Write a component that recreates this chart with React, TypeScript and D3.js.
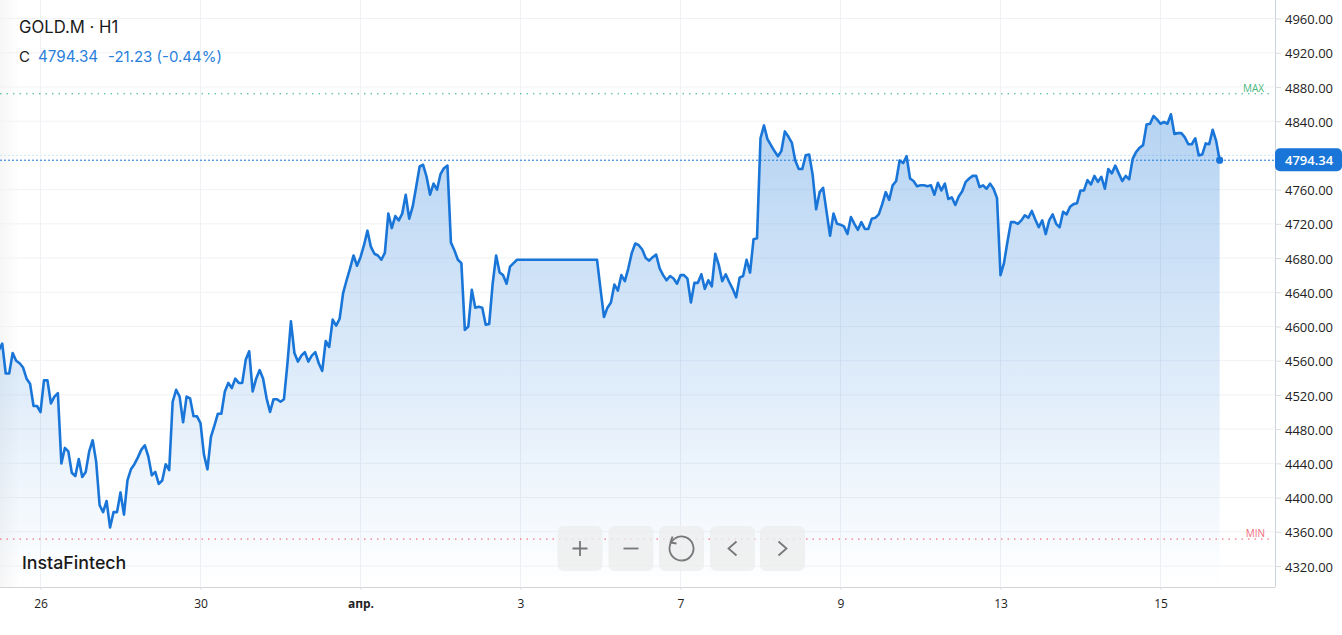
import React, { useEffect, useRef } from 'react';
import * as d3 from 'd3';

const symbolTitle = 'GOLD.M · H1';
const lastLabel = 'C';
const lastValue = 4794.34;
const changeText = '-21.23 (-0.44%)';
const brand = 'InstaFintech';

const priceTicks = [4960, 4920, 4880, 4840, 4760, 4720, 4680, 4640, 4600, 4560, 4520, 4480, 4440, 4400, 4360, 4320];
const hiddenTick = 4800;
const dateBars = [12, 58, 104, 150, 196, 242, 288, 334];
const dateLabels = ['26', '30', 'апр.', '3', '7', '9', '13', '15'];
const maxLevel = 4872;
const minLevel = 4351.5;

// hourly closes
const closes = [
  4572, 4580, 4545, 4545, 4569, 4560, 4557, 4552, 4539, 4533, 4507, 4507, 4500, 4537, 4537, 4510, 4518, 4522,
  4440, 4458, 4454, 4429, 4425, 4445, 4424, 4430, 4454, 4467, 4442, 4391, 4383, 4396, 4365, 4383, 4383, 4406,
  4380, 4420, 4433, 4439, 4447, 4456, 4461, 4448, 4426, 4430, 4416, 4420, 4439, 4432, 4512, 4526, 4518, 4488,
  4518, 4516, 4495, 4495, 4487, 4450, 4433, 4471, 4484, 4498, 4498, 4524, 4534, 4528, 4539, 4534, 4534, 4561,
  4571, 4524, 4539, 4549, 4539, 4516, 4500, 4515, 4515, 4512, 4515, 4557, 4606, 4569, 4559, 4566, 4570, 4559,
  4566, 4570, 4557, 4548, 4583, 4576, 4608, 4601, 4609, 4639, 4654, 4668, 4683, 4671, 4681, 4695, 4712, 4693,
  4685, 4683, 4678, 4686, 4732, 4715, 4729, 4724, 4732, 4754, 4726, 4740, 4763, 4787, 4789, 4775, 4754, 4767,
  4760, 4778, 4785, 4788, 4698, 4689, 4678, 4674, 4596, 4600, 4643, 4622, 4623, 4622, 4602, 4603, 4650, 4683,
  4663, 4660, 4650, 4670, 4674, 4678, 4678, 4678, 4678, 4678, 4678, 4678, 4678, 4678, 4678, 4678, 4678, 4678,
  4678, 4678, 4678, 4678, 4678, 4678, 4678, 4678, 4678, 4678, 4678, 4644, 4611, 4622, 4628, 4649, 4642, 4660,
  4653, 4668, 4686, 4697, 4695, 4690, 4680, 4677, 4681, 4684, 4668, 4660, 4654, 4659, 4656, 4650, 4660, 4660,
  4656, 4628, 4651, 4651, 4661, 4644, 4654, 4647, 4685, 4672, 4653, 4661, 4652, 4644, 4634, 4657, 4659, 4678,
  4663, 4702, 4703, 4820, 4835, 4819, 4812, 4805, 4799, 4805, 4828, 4822, 4815, 4794, 4784, 4784, 4800, 4801,
  4777, 4737, 4757, 4762, 4734, 4706, 4732, 4720, 4719, 4717, 4708, 4728, 4720, 4713, 4722, 4714, 4714, 4726,
  4727, 4731, 4743, 4757, 4748, 4765, 4770, 4794, 4791, 4799, 4773, 4770, 4764, 4765, 4765, 4764, 4765, 4754,
  4768, 4759, 4767, 4749, 4751, 4742, 4752, 4758, 4769, 4773, 4776, 4776, 4763, 4765, 4761, 4767, 4761, 4750,
  4660, 4674, 4699, 4722, 4722, 4720, 4724, 4730, 4727, 4735, 4725, 4716, 4724, 4708, 4724, 4731, 4720, 4716,
  4734, 4731, 4740, 4743, 4744, 4759, 4759, 4771, 4766, 4776, 4769, 4775, 4761, 4784, 4779, 4788, 4779, 4770,
  4776, 4772, 4796, 4804, 4809, 4812, 4836, 4837, 4846, 4842, 4837, 4839, 4837, 4848, 4825, 4826, 4826, 4821,
  4813, 4813, 4820, 4800, 4801, 4814, 4813, 4830, 4817, 4794.34,
];

const W = 1342;
const H = 635;
const plotRight = 1275;
const plotBottom = 587;
const lineColor = '#1976d8';
const uiFont = 'Inter, sans-serif';
const axisFont = '"Open Sans", sans-serif';

const App = () => {
  const ref = useRef<SVGSVGElement | null>(null);

  useEffect(() => {
    const svg = d3.select(ref.current);
    svg.selectAll('*').remove();

    const x = d3.scaleLinear().domain([12, 334]).range([40.5, 1160.5]);
    const y = d3.scaleLinear().domain([4320, 4960]).range([566, 18.5]);

    const defs = svg.append('defs');
    const fade = defs.append('linearGradient').attr('id', 'areaFade').attr('x1', 0).attr('x2', 0).attr('y1', 0).attr('y2', 1);
    fade.append('stop').attr('offset', '0%').attr('stop-color', '#1976d8').attr('stop-opacity', 0.32);
    fade.append('stop').attr('offset', '100%').attr('stop-color', '#1976d8').attr('stop-opacity', 0);
    const edge = defs.append('linearGradient').attr('id', 'edgeFade');
    edge.append('stop').attr('offset', '0%').attr('stop-color', '#f0f0f0').attr('stop-opacity', 0.6);
    edge.append('stop').attr('offset', '100%').attr('stop-color', '#f0f0f0').attr('stop-opacity', 0);
    defs.append('clipPath').attr('id', 'plotClip').append('rect').attr('width', plotRight).attr('height', plotBottom);

    svg.append('rect').attr('width', 20).attr('height', plotBottom).attr('fill', 'url(#edgeFade)');

    // grid
    const grid = svg.append('g');
    grid.selectAll('line.h').data(priceTicks).enter().append('line')
      .attr('x1', 0).attr('x2', plotRight)
      .attr('y1', (d) => y(d)).attr('y2', (d) => y(d))
      .attr('stroke', '#f1f2f5');
    grid.append('line')
      .attr('x1', 0).attr('x2', plotRight)
      .attr('y1', y(hiddenTick)).attr('y2', y(hiddenTick))
      .attr('stroke', '#d3e4f6').attr('stroke-dasharray', '2 2');
    grid.selectAll('line.v').data(dateBars).enter().append('line')
      .attr('x1', (d) => x(d)).attr('x2', (d) => x(d))
      .attr('y1', 0).attr('y2', plotBottom)
      .attr('stroke', '#eff1f5');

    const plot = svg.append('g').attr('clip-path', 'url(#plotClip)');

    const area = d3.area<number>()
      .x((_, i) => x(i))
      .y0(plotBottom)
      .y1((d) => y(d));
    const line = d3.line<number>()
      .x((_, i) => x(i))
      .y((d) => y(d));

    plot.append('path').datum(closes).attr('d', area).attr('fill', 'url(#areaFade)');
    plot.append('path').datum(closes).attr('d', line)
      .attr('fill', 'none')
      .attr('stroke', lineColor)
      .attr('stroke-width', 2.6)
      .attr('stroke-linejoin', 'round');

    // max, min and last price levels
    const levels = [
      { value: maxLevel, color: '#2fae8f', end: 1272, dash: '1.5 5' },
      { value: minLevel, color: '#f0505f', end: 1272, dash: '1.5 5' },
      { value: lastValue, color: '#1976d8', end: plotRight, dash: '2 2' },
    ];
    svg.selectAll('line.level').data(levels).enter().append('line')
      .attr('x1', 0).attr('x2', (d) => d.end)
      .attr('y1', (d) => y(d.value)).attr('y2', (d) => y(d.value))
      .attr('stroke', (d) => d.color)
      .attr('stroke-dasharray', (d) => d.dash);
    svg.append('text').attr('x', 1264).attr('y', 92).attr('text-anchor', 'end')
      .attr('font-family', axisFont).attr('font-size', 10).attr('fill', '#45b97c').text('MAX');
    svg.append('text').attr('x', 1265).attr('y', 537).attr('text-anchor', 'end')
      .attr('font-family', axisFont).attr('font-size', 10).attr('fill', '#f26d7d').text('MIN');

    svg.append('circle')
      .attr('cx', x(closes.length - 1)).attr('cy', y(lastValue))
      .attr('r', 3.6).attr('fill', lineColor);

    // axes
    const yAxis = svg.append('g')
      .attr('transform', `translate(${plotRight},0)`)
      .call(d3.axisRight(y).tickValues(priceTicks).tickFormat(d3.format('.2f')).tickSize(6).tickPadding(4));
    yAxis.select('.domain').attr('stroke', '#ccd2da').attr('d', `M0.5,0V${plotBottom}`);
    yAxis.selectAll('.tick line').attr('stroke', '#d8dce2');
    yAxis.selectAll('.tick text')
      .attr('font-family', axisFont).attr('font-size', 13).attr('fill', '#222')
      .attr('y', 1);

    const xAxis = svg.append('g')
      .attr('transform', `translate(0,${plotBottom})`)
      .call(
        d3.axisBottom(x)
          .tickValues(dateBars)
          .tickFormat((_, i) => dateLabels[i])
          .tickSize(3)
          .tickPadding(9),
      );
    xAxis.select('.domain').attr('stroke', '#d0d3d8').attr('d', `M0,0.5H${plotRight}`);
    xAxis.selectAll('.tick line').attr('stroke', '#d8dce2');
    xAxis.selectAll('.tick text')
      .attr('font-family', axisFont).attr('font-size', 12).attr('fill', '#222')
      .attr('font-weight', (_, i) => (dateLabels[i] === 'апр.' ? 700 : 400));

    // last price tag
    const tagY = y(lastValue);
    svg.append('rect')
      .attr('x', plotRight).attr('y', tagY - 12).attr('width', W - plotRight).attr('height', 23)
      .attr('rx', 5).attr('fill', lineColor);
    svg.append('text')
      .attr('x', 1285).attr('y', tagY + 5)
      .attr('font-family', axisFont).attr('font-size', 13).attr('font-weight', 600)
      .attr('fill', '#fff').text(d3.format('.2f')(lastValue));

    // header
    svg.append('text').attr('x', 19).attr('y', 33)
      .attr('font-family', uiFont).attr('font-size', 16.7).attr('fill', '#1a1a1a').text(symbolTitle);
    svg.append('text').attr('x', 19).attr('y', 62)
      .attr('font-family', uiFont).attr('font-size', 15).attr('fill', '#1a1a1a').text(lastLabel);
    svg.append('text').attr('x', 38).attr('y', 62)
      .attr('font-family', uiFont).attr('font-size', 15.2).attr('fill', '#2a7fdc').text(d3.format('.2f')(lastValue));
    svg.append('text').attr('x', 108).attr('y', 62)
      .attr('font-family', uiFont).attr('font-size', 15).attr('fill', '#2a7fdc').text(changeText);

    svg.append('text').attr('x', 22).attr('y', 569)
      .attr('font-family', uiFont).attr('font-size', 17.8).attr('font-weight', 500).attr('fill', '#1a1a1a').text(brand);

    // toolbar
    const buttons = [580, 631, 681.5, 732.5, 782.5];
    const icons = [
      'M-7.5,0H7.5M0,-7.5V7.5',
      'M-7.5,0H7.5',
      '',
      'M4,-7L-4,0L4,7',
      'M-4,-7L4,0L-4,7',
    ];
    const iconColor = '#77777b';
    const btn = svg.selectAll('g.btn').data(buttons).enter().append('g')
      .attr('transform', (d) => `translate(${d},548.5)`);
    btn.append('rect')
      .attr('x', -22.5).attr('y', -22.5).attr('width', 45).attr('height', 45).attr('rx', 6)
      .attr('fill', '#eceded').attr('fill-opacity', 0.8);
    btn.append('path')
      .attr('d', (_, i) => icons[i])
      .attr('fill', 'none').attr('stroke', iconColor).attr('stroke-width', 1.8);
    const reset = svg.append('g').attr('transform', `translate(${buttons[2]},548.5)`);
    reset.append('path')
      .attr('d', d3.arc()({ innerRadius: 12, outerRadius: 12, startAngle: -0.6, endAngle: Math.PI }) as string)
      .attr('fill', 'none').attr('stroke', iconColor).attr('stroke-width', 1.8);
    reset.append('path')
      .attr('d', d3.arc()({ innerRadius: 12, outerRadius: 12, startAngle: Math.PI, endAngle: 2 * Math.PI - 0.6 }) as string)
      .attr('fill', 'none').attr('stroke', iconColor).attr('stroke-width', 1.8).attr('stroke-dasharray', '3.5 2.5');
    reset.append('path')
      .attr('d', 'M-9,-12L-11,-6L-5,-5')
      .attr('fill', 'none').attr('stroke', iconColor).attr('stroke-width', 1.8);
  }, []);

  return (
    <svg
      ref={ref}
      width={W}
      height={H}
      style={{ position: 'absolute', left: 0, top: 0, background: '#fff' }}
    />
  );
};

export default App;
